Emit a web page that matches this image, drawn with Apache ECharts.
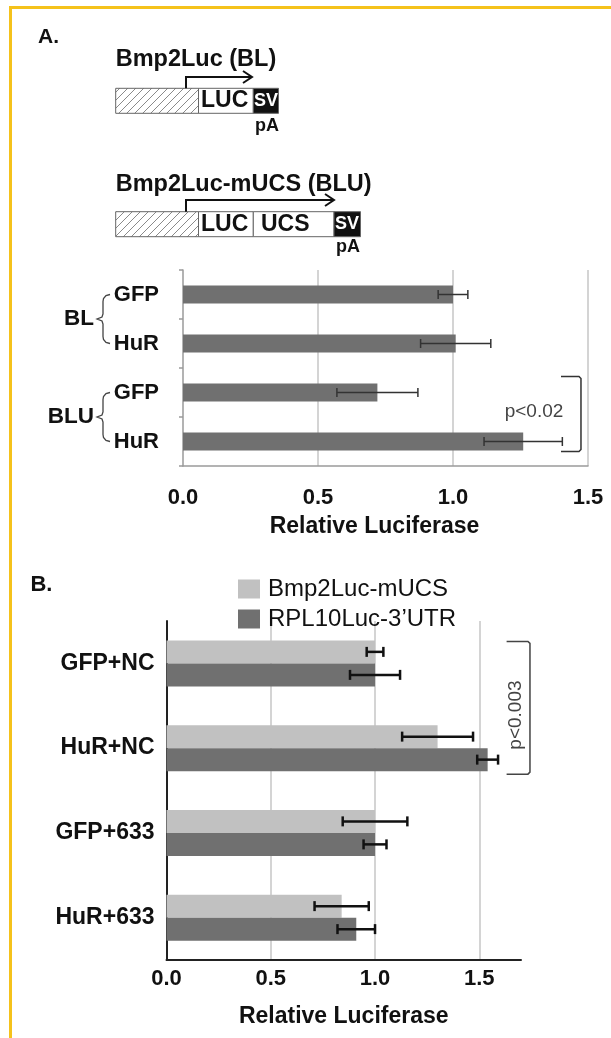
<!DOCTYPE html>
<html>
<head>
<meta charset="utf-8">
<script src="https://cdn.jsdelivr.net/npm/echarts@6.0.0/dist/echarts.min.js"></script>
<style>
html, body { margin: 0; padding: 0; background: #fff; }
#main { position: absolute; left: 0; top: 0; width: 611px; height: 1038px; }
#frame { position: absolute; left: 9px; top: 6px; width: 602px; height: 1032px;
  border-top: 3px solid #f5c21b; border-left: 3px solid #f5c21b; box-sizing: border-box; }
</style>
</head>
<body>
<div id="main"></div>
<div id="frame"></div>
<script>
// panel A
var catsA = ['GFP', 'HuR', 'GFP', 'HuR'];
var groupsA = ['BL', 'BLU'];
var valsA = [1.00, 1.01, 0.72, 1.26];
var errA = [0.055, 0.13, 0.15, 0.145];
var maxA = 1.5;

// panel B
var catsB = ['GFP+NC', 'HuR+NC', 'GFP+633', 'HuR+633'];
var namesB = ['Bmp2Luc-mUCS', 'RPL10Luc-3\u2019UTR'];
var bmpB = [1.00, 1.30, 1.00, 0.84];
var bmpErrB = [0.04, 0.17, 0.155, 0.13];
var rplB = [1.00, 1.54, 1.00, 0.91];
var rplErrB = [0.12, 0.05, 0.055, 0.09];
var maxB = 1.7;

var tickStep = 0.5;
var FONT = '"Liberation Sans", Arial, sans-serif';
var TXT = '#111';

var chart = echarts.init(document.getElementById('main'));

function errSeries(xi, yi, vals, errs, offset, color, lw, cap) {
    return {
        type: 'custom',
        xAxisIndex: xi,
        yAxisIndex: yi,
        z: 10,
        silent: true,
        data: vals.map(function (v, i) { return [v - errs[i], v + errs[i], i]; }),
        encode: { x: [0, 1], y: 2 },
        renderItem: function (params, api) {
            var a = api.coord([api.value(0), api.value(2)]);
            var b = api.coord([api.value(1), api.value(2)]);
            var y = a[1] + offset;
            var st = { stroke: color, lineWidth: lw };
            return {
                type: 'group',
                children: [
                    { type: 'line', shape: { x1: a[0], y1: y, x2: b[0], y2: y }, style: st },
                    { type: 'line', shape: { x1: a[0], y1: y - cap, x2: a[0], y2: y + cap }, style: st },
                    { type: 'line', shape: { x1: b[0], y1: y - cap, x2: b[0], y2: y + cap }, style: st }
                ]
            };
        }
    };
}

var fmt = function (v) { return v.toFixed(1); };

var option = {
    backgroundColor: '#fff',
    animation: false,
    textStyle: { fontFamily: FONT },
    grid: [
        { left: 183, top: 270, width: 405, height: 196 },
        { left: 166.5, top: 621, width: 354.5, height: 339 }
    ],
    legend: {
        data: namesB,
        orient: 'vertical',
        left: 233,
        top: 572,
        itemWidth: 22,
        itemHeight: 19,
        itemGap: 6,
        icon: 'rect',
        textStyle: { fontFamily: FONT, fontSize: 24, color: TXT, padding: [0, 0, 0, 3] }
    },
    xAxis: [
        {
            gridIndex: 0, type: 'value', min: 0, max: maxA, interval: tickStep,
            axisLine: { show: true, lineStyle: { color: '#9a9a9a', width: 1.5 } },
            axisTick: { show: false },
            splitLine: { show: true, showMinLine: false, lineStyle: { color: '#c6c6c6', width: 1.5 } },
            axisLabel: { formatter: fmt, margin: 21, fontSize: 22, fontWeight: 'bold', color: TXT, fontFamily: FONT },
            name: 'Relative Luciferase', nameLocation: 'middle', nameGap: 49,
            nameTextStyle: { fontSize: 23, fontWeight: 'bold', color: TXT, fontFamily: FONT, padding: [0, 22, 0, 0] }
        },
        {
            gridIndex: 1, type: 'value', min: 0, max: maxB, interval: tickStep,
            axisLine: { show: true, lineStyle: { color: '#222', width: 2 } },
            axisTick: { show: false },
            splitLine: { show: true, showMinLine: false, showMaxLine: false, lineStyle: { color: '#c6c6c6', width: 1.5 } },
            axisLabel: { formatter: fmt, margin: 8, fontSize: 22, fontWeight: 'bold', color: TXT, fontFamily: FONT, showMaxLabel: false },
            name: 'Relative Luciferase', nameLocation: 'middle', nameGap: 45,
            nameTextStyle: { fontSize: 23, fontWeight: 'bold', color: TXT, fontFamily: FONT }
        }
    ],
    yAxis: [
        {
            gridIndex: 0, type: 'category', data: catsA, inverse: true,
            axisLine: { show: true, lineStyle: { color: '#9a9a9a', width: 1.5 } },
            axisTick: { show: true, length: 4, lineStyle: { color: '#9a9a9a', width: 1.5 } },
            axisLabel: { margin: 24, fontSize: 22, fontWeight: 'bold', color: TXT, fontFamily: FONT }
        },
        {
            gridIndex: 1, type: 'category', data: catsB, inverse: true,
            axisLine: { show: true, lineStyle: { color: '#222', width: 2 } },
            axisTick: { show: false },
            axisLabel: { margin: 12, fontSize: 23, fontWeight: 'bold', color: TXT, fontFamily: FONT }
        }
    ],
    series: [
        { type: 'bar', xAxisIndex: 0, yAxisIndex: 0, data: valsA, barWidth: 18, itemStyle: { color: '#707070' } },
        errSeries(0, 0, valsA, errA, 0, '#333', 1.5, 4.5),
        { type: 'bar', name: namesB[0], xAxisIndex: 1, yAxisIndex: 1, data: bmpB, barWidth: 23, barGap: '0%', itemStyle: { color: '#c1c1c1' } },
        { type: 'bar', name: namesB[1], xAxisIndex: 1, yAxisIndex: 1, data: rplB, barWidth: 23, barGap: '0%', itemStyle: { color: '#707070' } },
        errSeries(1, 1, bmpB, bmpErrB, -11.5, '#111', 2.5, 5),
        errSeries(1, 1, rplB, rplErrB, 11.5, '#111', 2.5, 5)
    ]
};
chart.setOption(option);

// annotations placed through the chart's own coordinate conversion
function pA(x, c) { return chart.convertToPixel({ gridIndex: 0 }, [x, c]); }
function pB(x, c) { return chart.convertToPixel({ gridIndex: 1 }, [x, c]); }
// category axes snap to whole indices, so interpolate between bands
function at(fn, x, c) {
    var f = Math.floor(c);
    var p0 = fn(x, f), p1 = fn(x, f + 1);
    return [p0[0], p0[1] + (c - f) * (p1[1] - p0[1])];
}

// hatched pattern for promoter region
var hc = document.createElement('canvas');
hc.width = 8; hc.height = 8;
var hx = hc.getContext('2d');
hx.strokeStyle = '#8a8a8a';
hx.lineWidth = 1;
hx.beginPath();
hx.moveTo(0, 8); hx.lineTo(8, 0);
hx.moveTo(-1, 1); hx.lineTo(1, -1);
hx.moveTo(7, 9); hx.lineTo(9, 7);
hx.stroke();

var g = [];
function txt(x, y, s, size, opt) {
    opt = opt || {};
    g.push({
        type: 'text', x: x, y: y, rotation: opt.rot || 0, z: 20,
        style: {
            text: s, fontSize: size, fontWeight: opt.weight || 'bold', fontFamily: FONT,
            fill: opt.color || TXT, align: opt.align || 'left', verticalAlign: 'middle'
        }
    });
}
function box(x0, x1, y0, h, fill) {
    g.push({ type: 'rect', shape: { x: x0, y: y0, width: x1 - x0, height: h }, z: 15,
        style: { fill: fill, stroke: '#666', lineWidth: 1 } });
}
function arrow(xs, yb, yt, xe) {
    var st = { stroke: '#111', lineWidth: 2, fill: null };
    g.push({ type: 'polyline', z: 16, shape: { points: [[xs, yb], [xs, yt], [xe, yt]] }, style: st });
    g.push({ type: 'polyline', z: 16, shape: { points: [[xe - 9, yt - 6], [xe, yt], [xe - 9, yt + 6]] }, style: st });
}

// construct diagrams
txt(38, 37, 'A.', 21);
txt(115.7, 60, 'Bmp2Luc (BL)', 23.5);
box(115.7, 198.5, 88.3, 25, { image: hc, repeat: 'repeat' });
box(198.5, 253.3, 88.3, 25, '#fff');
box(253.3, 278.5, 88.3, 25, '#111');
txt(201, 101, 'LUC', 23);
txt(266, 101, 'SV', 18, { color: '#fff', align: 'center' });
txt(267, 126.5, 'pA', 18, { align: 'center' });
arrow(186, 88.3, 77, 252);

txt(115.7, 185, 'Bmp2Luc-mUCS (BLU)', 23.5);
box(115.7, 198.5, 211.7, 25, { image: hc, repeat: 'repeat' });
box(198.5, 253.3, 211.7, 25, '#fff');
box(253.3, 334, 211.7, 25, '#fff');
box(334, 360.5, 211.7, 25, '#111');
txt(201, 224.5, 'LUC', 23);
txt(261, 224.5, 'UCS', 23);
txt(347, 224.5, 'SV', 18, { color: '#fff', align: 'center' });
txt(348, 247, 'pA', 18, { align: 'center' });
arrow(186, 211.7, 200, 334);

// group braces in panel A
groupsA.forEach(function (name, k) {
    var top = pA(0, 2 * k)[1], bot = pA(0, 2 * k + 1)[1];
    var mid = (top + bot) / 2;
    var xr = 110, xm = 103, xt = 97;
    g.push({
        type: 'polyline', z: 16,
        shape: { points: [[xr, top], [xm + 3, top + 1], [xm + 0.5, top + 4], [xm, top + 7], [xm, mid - 5], [xm - 1, mid - 2], [xt, mid],
            [xm - 1, mid + 2], [xm, mid + 5], [xm, bot - 7], [xm + 0.5, bot - 4], [xm + 3, bot - 1], [xr, bot]] },
        style: { stroke: '#444', lineWidth: 1.3, fill: null }
    });
    txt(94, mid, name, 22.5, { align: 'right' });
});

// significance bracket, panel A
(function () {
    var a = pA(1.40, 2), b = pA(1.474, 3);
    var top = a[1] - 16, bot = b[1] + 10, x1 = a[0], x2 = b[0];
    g.push({ type: 'polyline', z: 16,
        shape: { points: [[x1, top], [x2 - 2, top], [x2, top + 2], [x2, bot - 2], [x2 - 2, bot], [x1, bot]] },
        style: { stroke: '#333', lineWidth: 1.5, fill: null } });
    var t = at(pA, 1.30, 2.4);
    txt(t[0], t[1], 'p<0.02', 19, { weight: 'normal', color: '#444', align: 'center' });
})();

// panel B label and bracket
txt(30.4, 585, 'B.', 22);
(function () {
    var a = pB(1.631, 0), b = pB(1.743, 1);
    var top = a[1] - 22, bot = b[1] + 26, x1 = a[0], x2 = b[0];
    g.push({ type: 'polyline', z: 16,
        shape: { points: [[x1, top], [x2 - 2, top], [x2, top + 2], [x2, bot - 2], [x2 - 2, bot], [x1, bot]] },
        style: { stroke: '#444', lineWidth: 1.5, fill: null } });
    var t = at(pB, 1.675, 0.61);
    txt(t[0], t[1], 'p<0.003', 19, { weight: 'normal', color: '#444', align: 'center', rot: Math.PI / 2 });
})();

chart.setOption({ graphic: g });
</script>
</body>
</html>
